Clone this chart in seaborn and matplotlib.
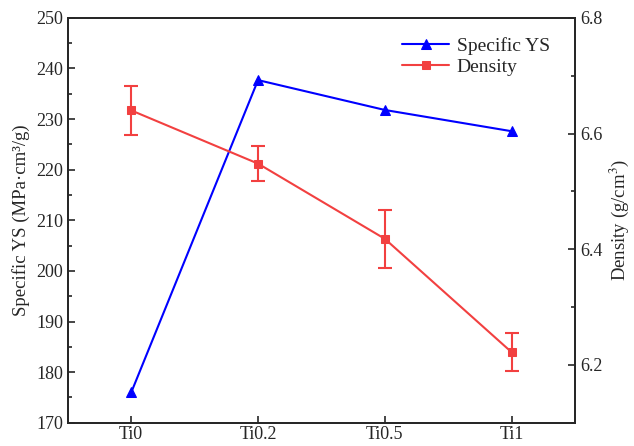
import matplotlib
matplotlib.use("Agg")
import matplotlib.pyplot as plt
import seaborn as sns
import pandas as pd
from matplotlib.ticker import MultipleLocator

sns.set_style("ticks")
plt.rcParams['font.family'] = ['Liberation Serif', 'DejaVu Serif']
plt.rcParams['mathtext.fontset'] = 'stix'

samples = ["Ti0", "Ti0.2", "Ti0.5", "Ti1"]
specific_ys = [176.0, 237.7, 231.8, 227.6]
density = [6.640, 6.548, 6.418, 6.222]
density_err = [0.042, 0.030, 0.050, 0.033]

xpos = list(range(len(samples)))
df = pd.DataFrame({"x": xpos, "ys": specific_ys, "rho": density, "err": density_err})

fig = plt.figure(figsize=(6.34, 4.46), dpi=100)
ax = fig.add_axes([0.107, 0.052, 0.800, 0.908])
ax2 = ax.twinx()

blue = "#0000ff"
red = "#f24040"

sns.lineplot(data=df, x="x", y="ys", ax=ax, color=blue, marker="^", markersize=7,
             markeredgecolor=blue, linewidth=1.5, label="Specific YS", legend=False)
sns.lineplot(data=df, x="x", y="rho", ax=ax2, color=red, marker="s", markersize=6,
             markeredgecolor=red, linewidth=1.5, label="Density", legend=False)
ax2.errorbar(df["x"], df["rho"], yerr=df["err"], fmt="none", ecolor=red,
             elinewidth=1.5, capsize=5, capthick=1.5)

ax.set_xlim(-0.5, 3.5)
ax.set_ylim(170, 250)
ax2.set_ylim(6.1, 6.8)
ax.set_xticks(xpos)
ax.set_xticklabels(samples)
ax.yaxis.set_major_locator(MultipleLocator(10))
ax.yaxis.set_minor_locator(MultipleLocator(5))
ax2.yaxis.set_minor_locator(MultipleLocator(0.1))
ax2.set_yticks([6.2, 6.4, 6.6, 6.8])

for a in (ax, ax2):
    a.tick_params(direction="in", which="major", length=5, width=1.2, labelsize=13)
    a.tick_params(direction="in", which="minor", length=3, width=1.2)
    for s in a.spines.values():
        s.set_linewidth(1.3)
        s.set_visible(True)
ax.tick_params(axis="y", right=False)
ax.tick_params(axis="x", top=False, pad=2)
ax2.tick_params(axis="x", top=False, bottom=False)

ax.set_xlabel("")
ax.set_ylabel("Specific YS (MPa·cm³/g)", fontsize=13.5)
ax2.set_ylabel("Density (g/cm$^3$)", fontsize=13.5)

h1, l1 = ax.get_legend_handles_labels()
h2, l2 = ax2.get_legend_handles_labels()
ax.legend(h1 + h2, l1 + l2, loc="upper right", bbox_to_anchor=(0.985, 0.995),
          frameon=False, fontsize=14, handlelength=2.4, handletextpad=0.4,
          labelspacing=0.15)

fig.savefig("out.png", dpi=100)
